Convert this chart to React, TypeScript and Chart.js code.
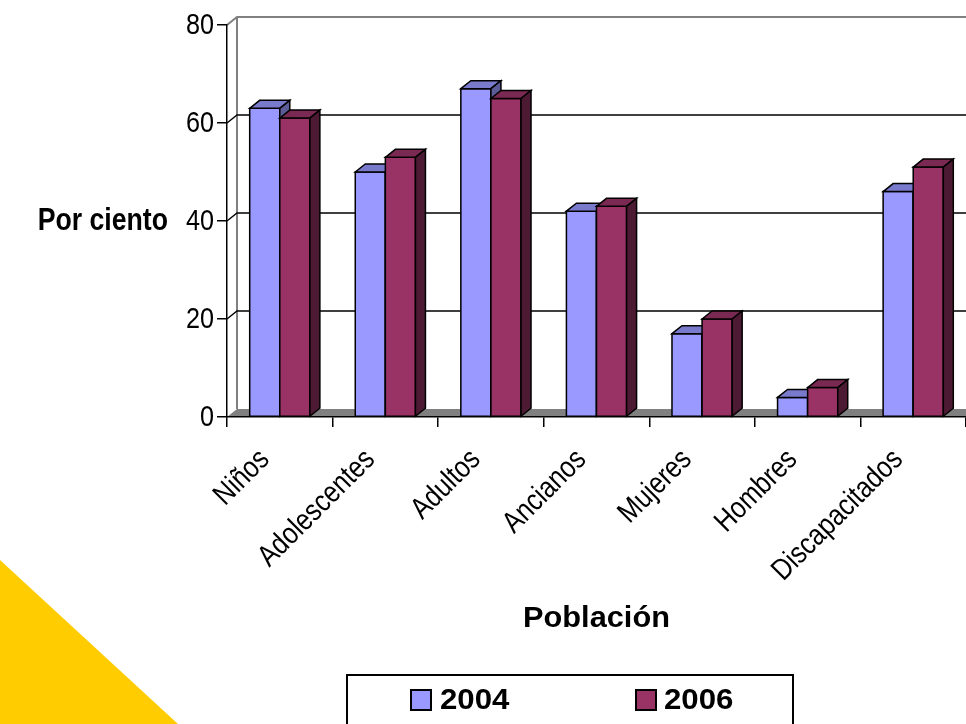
import { useEffect, useRef } from "react";
import { Chart, registerables } from "chart.js";

Chart.register(...registerables);

// Population groups and percentages per survey year
const categories = ["Niños", "Adolescentes", "Adultos", "Ancianos", "Mujeres", "Hombres", "Discapacitados"];
const values2004 = [63, 50, 67, 42, 17, 4, 46];
const values2006 = [61, 53, 65, 43, 20, 6, 51];
const seriesNames = ["2004", "2006"];
const yTicks = [0, 20, 40, 60, 80];
const yTitle = "Por ciento";
const xTitle = "Población";

const SANS = "'Liberation Sans', Arial, Helvetica, sans-serif";

// depth offset of the pseudo-3D box (right and up)
const DX = 10;
const DY = -8;

const faces = [
  { front: "#9999FF", top: "#7A7ACC", side: "#5C5C99" },
  { front: "#993366", top: "#7A2952", side: "#4D1A33" },
];

function poly(ctx: CanvasRenderingContext2D, pts: number[][], fill?: string, stroke?: string, lw = 1.3) {
  ctx.beginPath();
  ctx.moveTo(pts[0][0], pts[0][1]);
  for (let i = 1; i < pts.length; i++) ctx.lineTo(pts[i][0], pts[i][1]);
  ctx.closePath();
  if (fill) {
    ctx.fillStyle = fill;
    ctx.fill();
  }
  if (stroke) {
    ctx.strokeStyle = stroke;
    ctx.lineWidth = lw;
    ctx.lineJoin = "miter";
    ctx.stroke();
  }
}

// text with a horizontal stretch factor, optionally rotated around its anchor
function text(
  ctx: CanvasRenderingContext2D,
  s: string,
  x: number,
  y: number,
  font: string,
  align: CanvasTextAlign,
  sx: number,
  angle = 0
) {
  ctx.save();
  ctx.translate(x, y);
  if (angle) ctx.rotate(angle);
  ctx.scale(sx, 1);
  ctx.font = font;
  ctx.textAlign = align;
  ctx.textBaseline = "middle";
  ctx.fillStyle = "#000";
  ctx.fillText(s, 0, 0);
  ctx.restore();
}

const depthPlugin = {
  id: "depth3d",
  beforeDraw(chart: any) {
    const { ctx, chartArea: ca, scales } = chart;
    const y = scales.y;
    ctx.save();
    // decorative corner triangle
    ctx.fillStyle = "#FFCC00";
    ctx.beginPath();
    ctx.moveTo(0, 560);
    ctx.lineTo(178, 724);
    ctx.lineTo(0, 724);
    ctx.closePath();
    ctx.fill();

    const y0 = y.getPixelForValue(0);
    const yTop = y.getPixelForValue(80);
    // floor
    poly(ctx, [[ca.left, y0], [ca.left + DX, y0 + DY], [ca.right + 2, y0 + DY], [ca.right + 2, y0]], "#808080");
    // back-left wall edge
    ctx.strokeStyle = "#808080";
    ctx.lineWidth = 2;
    ctx.beginPath();
    ctx.moveTo(ca.left + DX, yTop + DY);
    ctx.lineTo(ca.left + DX, y0 + DY);
    ctx.stroke();
    // gridlines on the side and back walls
    for (const v of yTicks) {
      if (v === 0) continue;
      const py = y.getPixelForValue(v);
      ctx.strokeStyle = v === 80 ? "#808080" : "#000000";
      ctx.lineWidth = v === 80 ? 2 : 1.4;
      ctx.beginPath();
      ctx.moveTo(ca.left, py);
      ctx.lineTo(ca.left + DX, py + DY);
      ctx.lineTo(ca.right + 2, py + DY);
      ctx.stroke();
    }
    ctx.restore();
  },
  afterDatasetsDraw(chart: any) {
    const { ctx } = chart;
    const metas = chart.data.datasets.map((_: any, i: number) => chart.getDatasetMeta(i));
    ctx.save();
    for (let j = 0; j < categories.length; j++) {
      metas.forEach((meta: any, di: number) => {
        const el = meta.data[j];
        if (!el) return;
        const { x, y, base, width } = el.getProps(["x", "y", "base", "width"], true);
        const l = x - width / 2;
        const r = x + width / 2;
        const c = faces[di];
        poly(ctx, [[l, y], [r, y], [r, base], [l, base]], c.front, "#000", 1.5);
        poly(ctx, [[l, y], [l + DX, y + DY], [r + DX, y + DY], [r, y]], c.top, "#000", 1.5);
        poly(ctx, [[r, y], [r + DX, y + DY], [r + DX, base + DY], [r, base]], c.side, "#000", 1.5);
      });
    }
    ctx.restore();
  },
  afterDraw(chart: any) {
    const { ctx, chartArea: ca, scales } = chart;
    const y = scales.y;
    const x = scales.x;
    ctx.save();

    // value axis labels
    const tickFont = `30px ${SANS}`;
    for (const v of yTicks) {
      text(ctx, String(v), ca.left - 13, y.getPixelForValue(v) + 1, tickFont, "right", 0.84);
    }
    // category labels, slanted 45 degrees
    categories.forEach((c, j) => {
      text(ctx, c, x.getPixelForValue(j) - 15, 455, tickFont, "right", 0.84, -Math.PI / 4);
    });

    // axis titles
    text(ctx, yTitle, 168, y.getPixelForValue(40), `bold 31px ${SANS}`, "right", 0.86);
    text(ctx, xTitle, (ca.left + ca.right) / 2, 619, `bold 29px ${SANS}`, "center", 1.06);

    // legend box
    ctx.lineWidth = 2;
    ctx.strokeStyle = "#000";
    ctx.strokeRect(347, 675, 446, 70);
    const items = [
      { sx: 411, tx: 440 },
      { sx: 636, tx: 664 },
    ];
    chart.data.datasets.forEach((ds: any, i: number) => {
      const it = items[i];
      ctx.fillStyle = ds.backgroundColor;
      ctx.fillRect(it.sx, 690, 20, 20);
      ctx.lineWidth = 2;
      ctx.strokeStyle = "#000";
      ctx.strokeRect(it.sx, 690, 20, 20);
      text(ctx, ds.label, it.tx, 701, `bold 30px ${SANS}`, "left", 1.04);
    });
    ctx.restore();
  },
};

export default function App() {
  const ref = useRef<HTMLCanvasElement | null>(null);

  useEffect(() => {
    if (!ref.current) return;
    const chart = new Chart(ref.current, {
      type: "bar",
      data: {
        labels: categories,
        datasets: [
          { label: seriesNames[0], data: values2004, backgroundColor: faces[0].front, borderWidth: 0 },
          { label: seriesNames[1], data: values2006, backgroundColor: faces[1].front, borderWidth: 0 },
        ],
      },
      options: {
        responsive: false,
        animation: false,
        devicePixelRatio: 1,
        layout: { padding: { top: 25, left: 0, right: 0, bottom: 0 } },
        datasets: { bar: { categoryPercentage: 0.57, barPercentage: 1 } },
        plugins: { legend: { display: false }, tooltip: { enabled: false } },
        scales: {
          x: {
            grid: { display: true, drawOnChartArea: false, drawTicks: true, tickLength: 10, color: "#000", lineWidth: 1.5, offset: true },
            border: { display: true, color: "#000", width: 1.5 },
            ticks: { display: false, autoSkip: false },
            afterFit: (s: any) => {
              s.height = 307;
            },
          },
          y: {
            min: 0,
            max: 80,
            grid: { display: true, drawOnChartArea: false, drawTicks: true, tickLength: 10, color: "#000", lineWidth: 1.5 },
            border: { display: true, color: "#000", width: 1.5 },
            ticks: { display: false, stepSize: 20 },
            afterFit: (s: any) => {
              s.width = 227;
            },
          },
        },
      },
      plugins: [depthPlugin],
    });
    return () => chart.destroy();
  }, []);

  return (
    <div style={{ position: "absolute", left: 0, top: 0, width: 966, height: 724, background: "#fff" }}>
      <canvas ref={ref} width={966} height={724} />
    </div>
  );
}
